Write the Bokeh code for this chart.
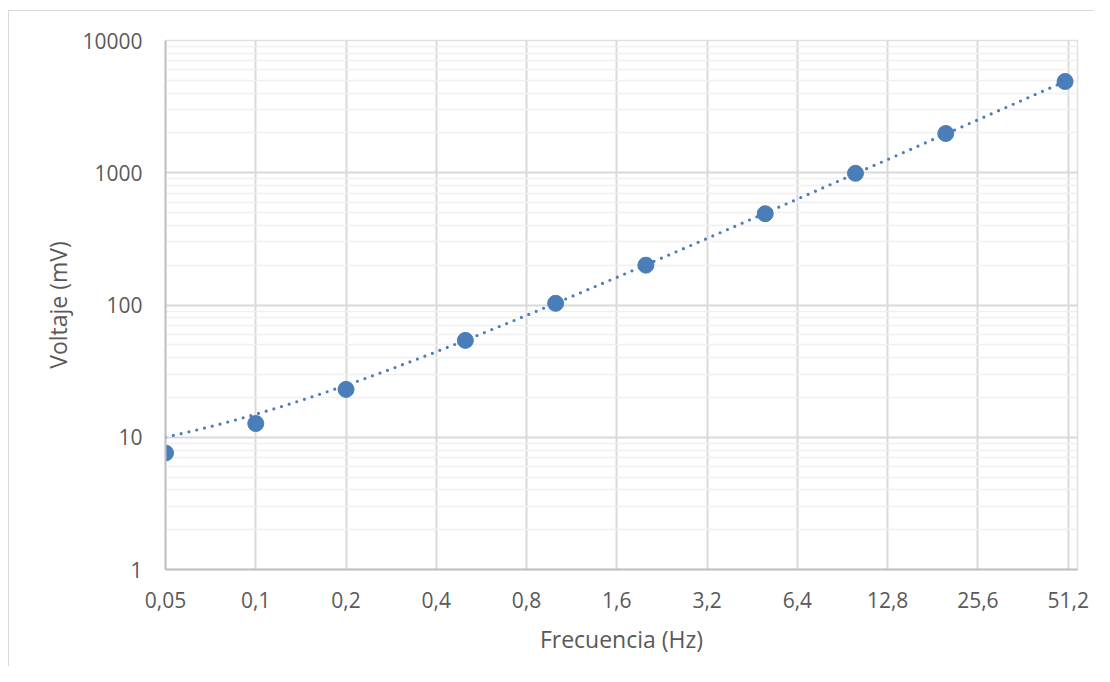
import numpy as np
from bokeh.plotting import figure
from bokeh.models import FixedTicker
from bokeh.embed import file_html
from bokeh.resources import INLINE

# Data
freq = [0.05, 0.1, 0.2, 0.5, 1, 2, 5, 10, 20, 50]          # Hz
volt = [7.6, 12.7, 23, 54, 103, 200, 490, 990, 1980, 4900]  # mV

x_ticks = [0.05, 0.1, 0.2, 0.4, 0.8, 1.6, 3.2, 6.4, 12.8, 25.6, 51.2]
x_tick_labels = ["0,05", "0,1", "0,2", "0,4", "0,8", "1,6", "3,2", "6,4", "12,8", "25,6", "51,2"]
y_ticks = [1, 10, 100, 1000, 10000]
y_tick_labels = ["1", "10", "100", "1000", "10000"]
y_minor = [m * d for d in (1, 10, 100, 1000) for m in range(2, 10)]

# Linear trendline fitted to the data (as in the source chart)
coef = np.polyfit(freq, volt, 1)
trend_x = np.geomspace(min(freq), max(freq), 300)
trend_y = np.polyval(coef, trend_x)

FONT = "Open Sans"
TXT = "#595959"
BLUE = "#4a7ebb"

p = figure(width=1094, height=666, x_axis_type="log", y_axis_type="log",
           x_range=(0.05, 55), y_range=(1, 10000),
           output_backend="svg", toolbar_location=None,
           min_border_left=165, min_border_right=17, min_border_top=40, min_border_bottom=97)

# thin outer chart border (left and top), as in the source
p.border_fill_color = None
p.background_fill_color = "white"
p.styles = {
    "background": "linear-gradient(#d9d9d9,#d9d9d9) 8px 10px / 1px 100% no-repeat, "
                  "linear-gradient(#d9d9d9,#d9d9d9) 8px 10px / 100% 1px no-repeat, white"
}

p.outline_line_color = "#e0e0e0"
p.outline_line_width = 1.5

xt = FixedTicker(ticks=x_ticks, minor_ticks=[])
yt = FixedTicker(ticks=y_ticks, minor_ticks=y_minor)
p.xaxis.ticker = xt
p.yaxis.ticker = yt
p.xgrid.ticker = xt
p.ygrid.ticker = yt
p.xaxis.major_label_overrides = dict(zip(x_ticks, x_tick_labels))
p.yaxis.major_label_overrides = dict(zip(y_ticks, y_tick_labels))

p.xgrid.grid_line_color = "#d9d9d9"
p.xgrid.grid_line_width = 2
p.ygrid.grid_line_color = "#d9d9d9"
p.ygrid.grid_line_width = 2
p.ygrid.minor_grid_line_color = "#f0f0f0"
p.ygrid.minor_grid_line_width = 1.5

for ax in (p.xaxis, p.yaxis):
    ax.axis_line_color = "#bfbfbf"
    ax.axis_line_width = 2
    ax.major_tick_line_color = None
    ax.minor_tick_line_color = None
    ax.major_tick_out = 0
    ax.major_tick_in = 0
    ax.minor_tick_out = 0
    ax.minor_tick_in = 0
    ax.major_label_text_font = FONT
    ax.major_label_text_font_size = "21px"
    ax.major_label_text_color = TXT
    ax.axis_label_text_font = FONT
    ax.axis_label_text_font_size = "23px"
    ax.axis_label_text_font_style = "normal"
    ax.axis_label_text_color = TXT

p.xaxis.axis_label = "Frecuencia (Hz)"
p.yaxis.axis_label = "Voltaje (mV)"
p.xaxis.major_label_standoff = 22
p.yaxis.major_label_standoff = 23
p.xaxis.axis_label_standoff = 12
p.yaxis.axis_label_standoff = 5

p.line(trend_x, trend_y, line_color=BLUE, line_width=3.2, line_dash="0 8", line_cap="round")
p.scatter(freq, volt, size=16, fill_color=BLUE, line_color=BLUE)

open("out.html", "w").write(file_html(p, INLINE))
